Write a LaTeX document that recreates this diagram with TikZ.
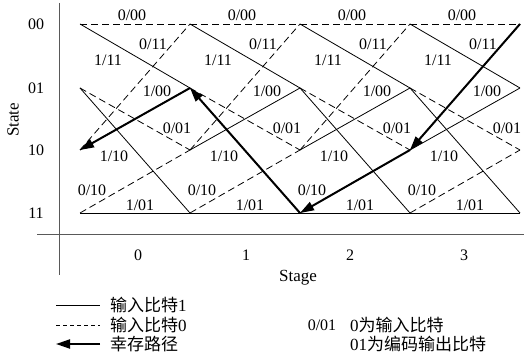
\documentclass[tikz,border=0pt]{standalone}
\usepackage{fontspec}
\setmainfont{Liberation Serif}
\newfontfamily\cjk{Noto Sans CJK SC}
\usetikzlibrary{arrows.meta}
\begin{document}
\begin{tikzpicture}[x=1pt,y=-1pt,
  lab/.style={font=\fontsize{16}{16}\selectfont, inner sep=0pt},
  big/.style={font=\fontsize{17}{17}\selectfont, inner sep=0pt},
  leg/.style={font=\fontsize{17}{17}\selectfont, inner sep=0pt, anchor=west},
  one/.style={line width=0.8pt},
  zero/.style={line width=0.8pt, dash pattern=on 7pt off 4pt},
  zeroleg/.style={line width=0.6pt, dash pattern=on 4pt off 3pt},
  surv/.style={line width=2pt, -{Triangle[length=14pt,width=9pt]}},
  axis/.style={line width=0.8pt, black!65}]
\useasboundingbox (0,0) rectangle (524,363);
\fill[white] (0,0) rectangle (524,363);

\foreach \k in {0,...,4} {
  \coordinate (a\k) at (80+110*\k, 24);
  \coordinate (b\k) at (80+110*\k, 88);
  \coordinate (c\k) at (80+110*\k, 150);
  \coordinate (d\k) at (80+110*\k, 213);
}

% axes
\coordinate (vt) at (59,3);
\coordinate (vb) at (59,275);
\coordinate (hl) at (37,234);
\coordinate (hr) at (524,234);
\draw[axis] (vt) -- (vb);
\draw[axis] (hl) -- (hr);

% trellis branches
\foreach \k/\n in {0/1,1/2,2/3,3/4} {
  \draw[zero] (a\k) -- (a\n);
  \draw[zero] (c\k) -- (a\n);
  \draw[zero] (b\k) -- (c\n);
  \draw[zero] (d\k) -- (c\n);
  \draw[one] (a\k) -- (b\n);
  \draw[one] (c\k) -- (b\n);
  \draw[one] (b\k) -- (d\n);
  \draw[one] (d\k) -- (d\n);
  \node[lab] (l00\k) at (132+110*\k, 15) {0/00};
  \node[lab] (l011\k) at (153+110*\k, 44) {0/11};
  \node[lab] (l111\k) at (108+110*\k, 60) {1/11};
  \node[lab] (l100\k) at (157+110*\k, 91) {1/00};
  \node[lab] (l001\k) at (177+110*\k, 128) {0/01};
  \node[lab] (l110\k) at (114+110*\k, 156) {1/10};
  \node[lab] (l010\k) at (92+110*\k, 190) {0/10};
  \node[lab] (l101\k) at (140+110*\k, 205) {1/01};
}

% survivor path
\draw[surv] (b1) -- (c0);
\draw[surv] (d2) -- (b1);
\draw[surv] (c3) -- (d2);
\draw[surv] (a4) -- (c3);

% state labels
\node[lab] (s00) at (36,24) {00};
\node[lab] (s01) at (36,88) {01};
\node[lab] (s10) at (36,150) {10};
\node[lab] (s11) at (36,213) {11};
\node[big, rotate=90] (ylab) at (13,120) {State};

% stage labels
\node[lab] (t0) at (138,255) {0};
\node[lab] (t1) at (246,255) {1};
\node[lab] (t2) at (350,255) {2};
\node[lab] (t3) at (464,255) {3};
\node[big] (xlab) at (298,278) {Stage};

% legend
\coordinate (la1) at (56,305); \coordinate (lb1) at (100,305);
\coordinate (la2) at (56,325); \coordinate (lb2) at (100,325);
\coordinate (la3) at (56,344); \coordinate (lb3) at (100,344);
\draw[one] (la1) -- (lb1);
\draw[zeroleg] (la2) -- (lb2);
\draw[surv] (lb3) -- (la3);
\node[leg] (t1l) at (110,305) {{\cjk 输入比特}1};
\node[leg] (t2l) at (110,325) {{\cjk 输入比特}0};
\node[leg] (t3l) at (110,344) {\cjk 幸存路径};
\node[lab] (ex) at (322,325) {0/01};
\node[leg] (e1) at (350,325) {0{\cjk 为输入比特}};
\node[leg] (e2) at (350,344) {01{\cjk 为编码输出比特}};
\end{tikzpicture}
\end{document}
